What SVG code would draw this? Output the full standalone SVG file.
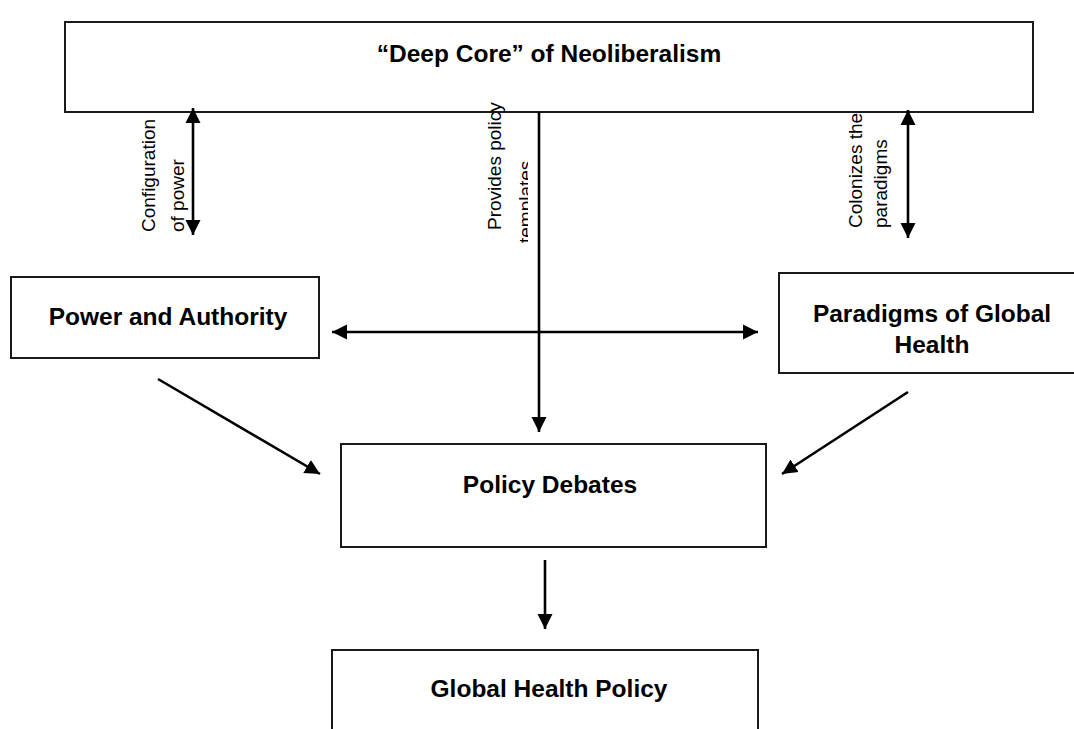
<svg xmlns="http://www.w3.org/2000/svg" width="1074" height="729" viewBox="0 0 1074 729">
<style>
.box{fill:#fff;stroke:#1a1a1a;stroke-width:2}
.t{font-family:"Liberation Sans",Arial,sans-serif;font-weight:bold;font-size:24.5px;fill:#000;text-anchor:middle}
.lab{font-family:"Liberation Sans",Arial,sans-serif;font-size:19px;fill:#000}
.c{stroke:#000;stroke-width:2.6;fill:none}
</style>
<defs>
<marker id="ah" markerUnits="userSpaceOnUse" markerWidth="16" markerHeight="16" viewBox="0 0 16 16" refX="15" refY="8" orient="auto-start-reverse">
<path d="M0,0.5 L15,8 L0,15.5 z" fill="#000"/>
</marker>
<clipPath id="clipT" clipPathUnits="userSpaceOnUse"><rect x="470" y="100" width="58" height="150"/></clipPath>
</defs>
<rect width="1074" height="729" fill="#fff"/>
<g id="deep-core">
<rect class="box" x="65" y="22" width="968" height="90"/>
<text class="t" x="549" y="62">“Deep Core” of Neoliberalism</text>
</g>
<g id="power-authority">
<rect class="box" x="11" y="277" width="308" height="81"/>
<text class="t" x="168" y="325">Power and Authority</text>
</g>
<g id="paradigms">
<rect class="box" x="779" y="273" width="310" height="100"/>
<text class="t" x="932" y="322">Paradigms of Global</text>
<text class="t" x="932" y="353">Health</text>
</g>
<g id="policy-debates">
<rect class="box" x="341" y="444" width="425" height="103"/>
<text class="t" x="550" y="493">Policy Debates</text>
</g>
<g id="global-health-policy">
<rect class="box" x="332" y="650" width="426" height="100"/>
<text class="t" x="549" y="697">Global Health Policy</text>
</g>
<g id="connectors">
<line class="c" x1="193" y1="108" x2="193" y2="235" marker-start="url(#ah)" marker-end="url(#ah)"/>
<line class="c" x1="539" y1="112" x2="539" y2="432" marker-end="url(#ah)"/>
<line class="c" x1="908" y1="110" x2="908" y2="238" marker-start="url(#ah)" marker-end="url(#ah)"/>
<line class="c" x1="332" y1="332" x2="758" y2="332" marker-start="url(#ah)" marker-end="url(#ah)"/>
<line class="c" x1="158" y1="379" x2="320" y2="474" marker-end="url(#ah)"/>
<line class="c" x1="908" y1="392" x2="782" y2="474" marker-end="url(#ah)"/>
<line class="c" x1="545" y1="560" x2="545" y2="629" marker-end="url(#ah)"/>
</g>
<g id="labels">
<text class="lab" transform="translate(155,232) rotate(-90)">Configuration</text>
<text class="lab" transform="translate(184,232) rotate(-90)">of power</text>
<text class="lab" transform="translate(501,230) rotate(-90)">Provides policy</text>
<g clip-path="url(#clipT)">
<text class="lab" transform="translate(532,243) rotate(-90)">templates</text>
</g>
<text class="lab" transform="translate(862,228) rotate(-90)">Colonizes the</text>
<text class="lab" transform="translate(887,228) rotate(-90)">paradigms</text>
</g>
</svg>
